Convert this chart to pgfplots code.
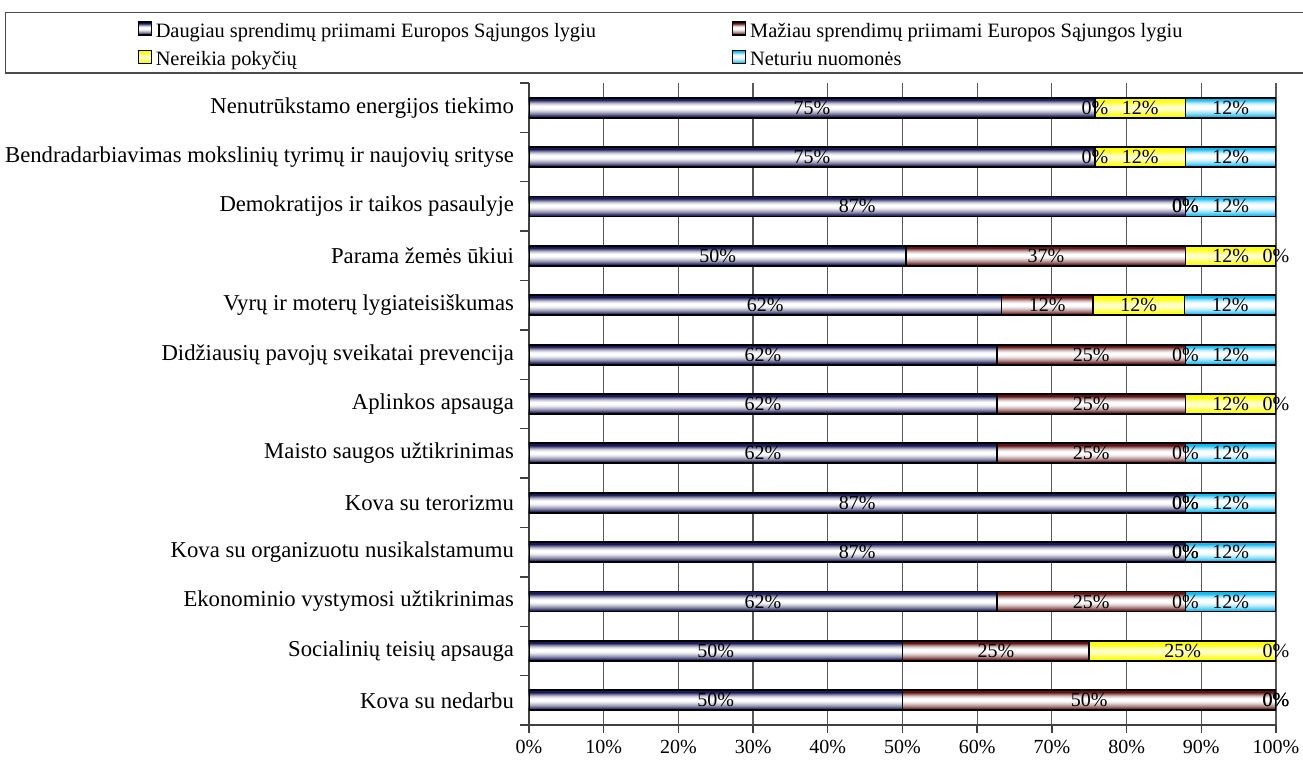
\documentclass[border=0pt]{standalone}
\usepackage{fontspec}
\setmainfont{Liberation Serif}
\usepackage{pgfplots}
\usepackage{pgfplotstable}
\pgfplotsset{compat=1.18}

\definecolor{navyE}{RGB}{25,25,85}
\definecolor{marE}{RGB}{95,20,20}
\definecolor{yelE}{RGB}{255,255,0}
\definecolor{yelM}{RGB}{255,255,200}
\definecolor{cyaE}{RGB}{20,185,240}

\pgfdeclareverticalshading{navyS}{100bp}{color(0bp)=(navyE); color(25bp)=(navyE); color(30bp)=(navyE!88!white); color(34bp)=(navyE!60!white); color(39bp)=(navyE!35!white); color(45bp)=(navyE!10!white); color(50bp)=(white); color(55bp)=(white); color(61bp)=(navyE!25!white); color(66bp)=(navyE!65!white); color(70bp)=(navyE); color(100bp)=(navyE)}
\pgfdeclareverticalshading{marS}{100bp}{color(0bp)=(marE); color(25bp)=(marE); color(30bp)=(marE!88!white); color(34bp)=(marE!60!white); color(39bp)=(marE!35!white); color(45bp)=(marE!10!white); color(50bp)=(white); color(55bp)=(white); color(61bp)=(marE!25!white); color(66bp)=(marE!65!white); color(70bp)=(marE); color(100bp)=(marE)}
\pgfdeclareverticalshading{yelS}{100bp}{color(0bp)=(yelE); color(25bp)=(yelE); color(34bp)=(yelE!80!white); color(46bp)=(yelM); color(54bp)=(yelM); color(64bp)=(yelE!80!white); color(71bp)=(yelE); color(100bp)=(yelE)}
\pgfdeclareverticalshading{cyaS}{100bp}{color(0bp)=(cyaE); color(25bp)=(cyaE); color(30bp)=(cyaE!88!white); color(34bp)=(cyaE!60!white); color(39bp)=(cyaE!35!white); color(45bp)=(cyaE!10!white); color(50bp)=(white); color(55bp)=(white); color(61bp)=(cyaE!25!white); color(66bp)=(cyaE!65!white); color(70bp)=(cyaE); color(100bp)=(cyaE)}

% values as displayed in the chart (each row is normalised to 100 % by the chart)
\pgfplotstableread{
y a b c d
12 75 0 12 12
11 75 0 12 12
10 87 0 0 12
9 50 37 12 0
8 62 12 12 12
7 62 25 0 12
6 62 25 12 0
5 62 25 0 12
4 87 0 0 12
3 87 0 0 12
2 62 25 0 12
1 50 25 25 0
0 50 50 0 0
}\data

\newcommand\T{(\thisrow{a}+\thisrow{b}+\thisrow{c}+\thisrow{d})}

\pgfplotsset{
  common/.style={
    scale only axis, width=373.5pt, height=321pt,
    xmin=0, xmax=100, ymin=-0.5, ymax=12.5,
    at={(0,0)}, anchor=south west,
    /pgf/number format/assume math mode=true,
  },
  barsty/.style={draw=black, line width=0.9pt, shade, shading=#1},
}

\begin{document}
\begin{tikzpicture}
\begin{axis}[common,
  xbar, bar width=10pt,
  axis x line*=bottom, axis y line*=left,
  axis line style={black!75, line width=0.7pt},
  tick align=outside,
  xtick={0,10,...,100},
  xticklabel={\pgfmathprintnumber{\tick}\%},
  ytick={0,...,12},
  yticklabels={Kova su nedarbu, Socialinių teisių apsauga, Ekonominio vystymosi užtikrinimas, Kova su organizuotu nusikalstamumu, Kova su terorizmu, Maisto saugos užtikrinimas, Aplinkos apsauga, Didžiausių pavojų sveikatai prevencija, Vyrų ir moterų lygiateisiškumas, Parama žemės ūkiui, Demokratijos ir taikos pasaulyje, Bendradarbiavimas mokslinių tyrimų ir naujovių srityse, Nenutrūkstamo energijos tiekimo},
  yticklabel style={font=\fontsize{11.35}{13}\selectfont},
  minor ytick={-0.5,0.5,...,12.5},
  major tick length=4pt, minor tick length=4.5pt,
  major y tick style={draw=none},
  minor y tick style={black!75, line width=0.7pt},
  major x tick style={black!75, line width=0.7pt},
  xmajorgrids, grid style={black!65, line width=0.6pt},
  legend columns=2,
  legend cell align=left,
  legend image code/.code={\draw[#1, line width=0.6pt] (0pt,-3.2pt) rectangle (6.5pt,3.3pt);},
  legend style={at={(axis description cs:-0.7015,1.1106)}, anchor=north west,
    draw=black!70, line width=0.6pt, inner xsep=66pt, inner ysep=1pt,
    font=\fontsize{10.2}{12}\selectfont,
    nodes={inner ysep=0pt, text height=11.6pt, text depth=2.5pt},
    /tikz/row sep=0pt,
    /tikz/column 2/.style={column sep=66pt}},
]
% cumulative bars drawn from the right-most segment to the left-most, one bar per row
\pgfplotsinvokeforeach{0,...,12}{
\addplot[barsty=cyaS, bar shift=0pt, forget plot, y filter/.expression={abs(y-#1)<0.25 ? y : nan}]
  table[x expr={100*(\thisrow{a}+\thisrow{b}+\thisrow{c}+\thisrow{d})/\T}, y=y]{\data};
\addplot[barsty=yelS, bar shift=0pt, forget plot, y filter/.expression={abs(y-#1)<0.25 ? y : nan}]
  table[x expr={100*(\thisrow{a}+\thisrow{b}+\thisrow{c})/\T}, y=y]{\data};
\addplot[barsty=marS, bar shift=0pt, forget plot, y filter/.expression={abs(y-#1)<0.25 ? y : nan}]
  table[x expr={100*(\thisrow{a}+\thisrow{b})/\T}, y=y]{\data};
\addplot[barsty=navyS, bar shift=0pt, forget plot, y filter/.expression={abs(y-#1)<0.25 ? y : nan}]
  table[x expr={100*\thisrow{a}/\T}, y=y]{\data};
}
\addlegendimage{barsty=navyS}
\addlegendentry{Daugiau sprendimų priimami Europos Sąjungos lygiu}
\addlegendimage{barsty=marS}
\addlegendentry{Mažiau sprendimų priimami Europos Sąjungos lygiu}
\addlegendimage{barsty=yelS}
\addlegendentry{Nereikia pokyčių}
\addlegendimage{barsty=cyaS}
\addlegendentry{Neturiu nuomonės}
\node[anchor=west, font=\fontsize{11}{13}\selectfont] at (axis description cs:-0.517,0.023) {B.};
\end{axis}

\begin{axis}[common, hide axis,
  nodes near coords={\pgfmathprintnumber{\pgfplotspointmeta}\%},
  every node near coord/.append style={anchor=center, text=black, inner sep=0pt},
]
\addplot[only marks, mark=none, point meta=\thisrow{a}] table[x expr={50*\thisrow{a}/\T}, y=y]{\data};
\addplot[only marks, mark=none, point meta=\thisrow{b}] table[x expr={100*(\thisrow{a}+0.5*\thisrow{b})/\T}, y=y]{\data};
\addplot[only marks, mark=none, point meta=\thisrow{c}] table[x expr={100*(\thisrow{a}+\thisrow{b}+0.5*\thisrow{c})/\T}, y=y]{\data};
\addplot[only marks, mark=none, point meta=\thisrow{d}] table[x expr={100*(\thisrow{a}+\thisrow{b}+\thisrow{c}+0.5*\thisrow{d})/\T}, y=y]{\data};
\end{axis}
\pgfresetboundingbox
\useasboundingbox (-264.5pt,-17.5pt) rectangle (387pt,362.5pt);
\end{tikzpicture}
\end{document}
